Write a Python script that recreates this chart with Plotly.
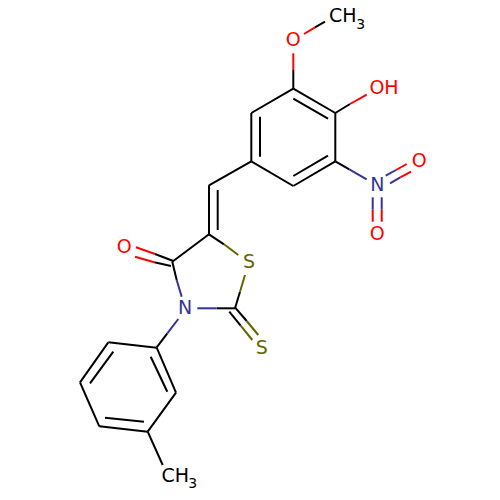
import plotly.graph_objects as go

# bond strokes per colour, as (x0, y0, x1, y1) in drawing units
black_bonds = [
    (293.3, 88.7, 335.3, 113), (335.3, 113, 335.3, 161.3), (335.3, 161.3, 293.3, 186),
    (293.3, 186, 251.3, 161.3), (251.3, 161.3, 251.3, 113), (251.3, 113, 293.3, 88.7),
    (293.3, 98.7, 328, 118.7), (328, 155.7, 293.3, 176), (260, 116.7, 260, 156.7),
    (251.3, 161.3, 209, 185.3), (209, 185.3, 209, 234.3), (217.7, 190, 217.7, 230),
    (209, 234.3, 224, 244.3), (235, 308.3, 240, 291.7), (235, 308.3, 216.7, 308.3),
    (209, 234.3, 172.3, 261.7), (172.3, 261.7, 176.7, 280),
    (235, 307.3, 246.7, 321), (229.3, 311.7, 240.7, 325.7),
    (173.3, 261, 155, 254), (171, 266, 154.3, 262.3),
    (167.3, 333.3, 156.7, 347.3),
    (156.7, 347.7, 176, 392.7), (176, 392.7, 147.7, 431.7), (147.7, 431.7, 99.3, 426.3),
    (99.3, 426.3, 80, 382.3), (80, 382.3, 108.3, 342.3), (108.3, 342.3, 156.7, 347.7),
    (150.7, 356.7, 167.3, 391.7), (144, 421.7, 105, 417.7), (90, 383.3, 113.3, 351.7),
    (147.7, 431.7, 162.7, 465),
    (293.3, 88.7, 293.3, 70), (315, 27.3, 325, 21.7),
    (335.3, 113, 350, 104), (335.3, 161.3, 349.3, 169.3),
]
red_bonds = [
    (293.3, 70, 293.3, 53.3), (304, 34, 315, 27.3), (350, 104, 366.7, 94.7),
    (155, 254, 136, 247.3), (154.3, 262.3, 135, 256.7),
    (396, 170, 406.7, 164), (400.3, 177.3, 411, 171.7),
    (372.7, 209.3, 372.7, 221.7), (381.7, 209.3, 381.7, 221.7),
]
blue_bonds = [
    (349.3, 169.3, 366.7, 179.3), (176.7, 280, 181.7, 296.7), (197.3, 308.3, 216.7, 308.3),
    (178.3, 319, 167.3, 333.3),
    (385.7, 175.7, 396, 170), (390, 183.3, 400.3, 177.3),
    (372.7, 197.3, 372.7, 209.3), (381.7, 197.3, 381.7, 209.3),
]
olive_bonds = [
    (224, 244.3, 238.3, 255), (245, 275, 240, 291.7),
    (246.7, 321, 258.3, 335), (240.7, 325.7, 252.3, 340),
]

label_text = ["O", "OH", "O", "O", "N", "S", "S", "N", "O"]
label_x = [293.3, 384, 419.3, 377.3, 377.3, 249, 261.7, 185, 124.3]
label_y = [41.7, 89.3, 162.3, 235.7, 186, 263.3, 349.3, 309.3, 248.3]
label_color = ["#FF0000", "#FF0000", "#FF0000", "#FF0000", "#333399",
               "#666600", "#666600", "#333399", "#FF0000"]

methyl_text = ["CH", "CH"]
methyl_x = [329, 161.5]
methyl_y = [17, 477]

subscript_text = ["3", "3"]
subscript_x = [360.8, 192.7]
subscript_y = [25.8, 484]


def strokes(segments, color):
    xs, ys = [], []
    for x0, y0, x1, y1 in segments:
        xs += [x0, x1, None]
        ys += [y0, y1, None]
    return go.Scatter(x=xs, y=ys, mode="lines", hoverinfo="skip",
                      line=dict(color=color, width=2, shape="linear"))


fig = go.Figure()
fig.add_trace(strokes(black_bonds, "#000000"))
fig.add_trace(strokes(red_bonds, "#FF0000"))
fig.add_trace(strokes(blue_bonds, "#333399"))
fig.add_trace(strokes(olive_bonds, "#666600"))
fig.add_trace(go.Scatter(x=label_x, y=label_y, text=label_text, mode="text",
                         textposition="middle center",
                         textfont=dict(family="DejaVu Sans", size=19, color=label_color)))
fig.add_trace(go.Scatter(x=methyl_x, y=methyl_y, text=methyl_text, mode="text",
                         textposition="middle right",
                         textfont=dict(family="DejaVu Sans", size=19, color="#000000")))
fig.add_trace(go.Scatter(x=subscript_x, y=subscript_y, text=subscript_text, mode="text",
                         textposition="middle center",
                         textfont=dict(family="DejaVu Sans", size=14, color="#000000")))
fig.update_layout(
    width=500, height=500, showlegend=False,
    margin=dict(l=0, r=0, t=0, b=0),
    paper_bgcolor="#FFFFFF", plot_bgcolor="#FFFFFF",
    xaxis=dict(range=[0, 500], visible=False),
    yaxis=dict(range=[500, 0], visible=False),
)
fig.write_html("out.html", config=dict(displayModeBar=False),
               post_script="document.body.style.margin='0';")
